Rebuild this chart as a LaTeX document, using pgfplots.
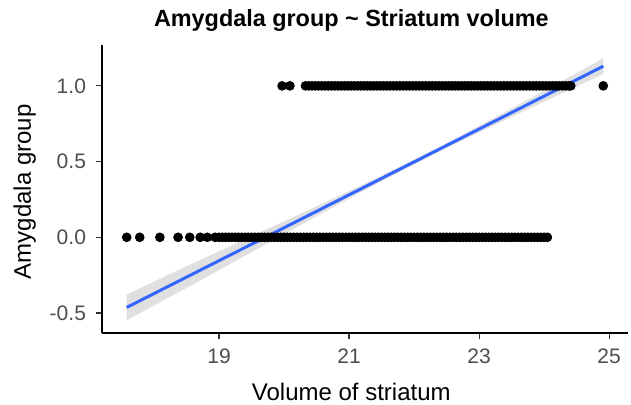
\documentclass[border=0pt]{standalone}
\usepackage{pgfplots}
\pgfplotsset{compat=1.18}
\usepackage{fontspec}
\setmainfont{Liberation Sans}
\definecolor{smoothblue}{HTML}{3366FF}
\definecolor{ticktext}{HTML}{4D4D4D}
\definecolor{tickline}{HTML}{333333}
\begin{document}
\begin{tikzpicture}
\useasboundingbox (0,0) rectangle (315.5pt,202.5pt);
\begin{axis}[
  at={(51pt,36pt)}, anchor=south west,
  width=263pt, height=144pt, scale only axis,
  xmin=17.2, xmax=25.29, ymin=-0.632, ymax=1.27,
  axis x line*=bottom, axis y line*=left,
  axis line style={black, line width=0.6pt},
  xtick={19,21,23,25}, ytick={-0.5,0,0.5,1},
  yticklabels={-0.5,0.0,0.5,1.0},
  tick align=outside, major tick length=3pt,
  tick style={tickline, line width=0.6pt},
  ticklabel style={font=\fontsize{10.5}{12}\selectfont, text=ticktext},
  /pgf/number format/assume math mode=true,
  xticklabel style={yshift=-1.5pt},
  yticklabel style={xshift=-1.5pt},
  xlabel={Volume of striatum},
  ylabel={Amygdala group},
  label style={font=\fontsize{12}{14}\selectfont},
  xlabel style={at={(axis description cs:0.474,-0.233)}, anchor=base},
  ylabel style={at={(axis description cs:-0.135,0.49)}, anchor=base},
  title={Amygdala group \textasciitilde{} Striatum volume},
  title style={font=\fontsize{11.7}{14}\selectfont\bfseries, at={(axis description cs:0.474,1.0625)}, anchor=base, yshift=-6pt},
  clip=false,
]
% y = 0 group
\addplot[only marks, mark=*, mark size=2.2pt, black] coordinates {
(17.58,0)(17.78,0)(18.09,0)(18.37,0)(18.55,0)(18.71,0)(18.82,0)(18.94,0)
(19.00,0)(19.05,0)(19.10,0)(19.15,0)(19.20,0)(19.25,0)(19.30,0)(19.35,0)(19.40,0)(19.45,0)
(19.50,0)(19.55,0)(19.60,0)(19.65,0)(19.70,0)(19.75,0)(19.80,0)(19.85,0)(19.90,0)(19.95,0)
(20.00,0)(20.05,0)(20.10,0)(20.15,0)(20.20,0)(20.25,0)(20.30,0)(20.35,0)(20.40,0)(20.45,0)
(20.50,0)(20.55,0)(20.60,0)(20.65,0)(20.70,0)(20.75,0)(20.80,0)(20.85,0)(20.90,0)(20.95,0)
(21.00,0)(21.05,0)(21.10,0)(21.15,0)(21.20,0)(21.25,0)(21.30,0)(21.35,0)(21.40,0)(21.45,0)
(21.50,0)(21.55,0)(21.60,0)(21.65,0)(21.70,0)(21.75,0)(21.80,0)(21.85,0)(21.90,0)(21.95,0)
(22.00,0)(22.05,0)(22.10,0)(22.15,0)(22.20,0)(22.25,0)(22.30,0)(22.35,0)(22.40,0)(22.45,0)
(22.50,0)(22.55,0)(22.60,0)(22.65,0)(22.70,0)(22.75,0)(22.80,0)(22.85,0)(22.90,0)(22.95,0)
(23.00,0)(23.05,0)(23.10,0)(23.15,0)(23.20,0)(23.25,0)(23.30,0)(23.35,0)(23.40,0)(23.45,0)
(23.50,0)(23.55,0)(23.60,0)(23.65,0)(23.70,0)(23.75,0)(23.80,0)(23.85,0)(23.90,0)(23.95,0)
(24.00,0)(24.05,0)
};
% y = 1 group
\addplot[only marks, mark=*, mark size=2.2pt, black] coordinates {
(19.97,1)(20.09,1)
(20.33,1)(20.38,1)(20.43,1)(20.48,1)(20.53,1)(20.58,1)(20.63,1)(20.68,1)(20.73,1)(20.78,1)
(20.83,1)(20.88,1)(20.93,1)(20.98,1)(21.03,1)(21.08,1)(21.13,1)(21.18,1)(21.23,1)(21.28,1)
(21.33,1)(21.38,1)(21.43,1)(21.48,1)(21.53,1)(21.58,1)(21.63,1)(21.68,1)(21.73,1)(21.78,1)
(21.83,1)(21.88,1)(21.93,1)(21.98,1)(22.03,1)(22.08,1)(22.13,1)(22.18,1)(22.23,1)(22.28,1)
(22.33,1)(22.38,1)(22.43,1)(22.48,1)(22.53,1)(22.58,1)(22.63,1)(22.68,1)(22.73,1)(22.78,1)
(22.83,1)(22.88,1)(22.93,1)(22.98,1)(23.03,1)(23.08,1)(23.13,1)(23.18,1)(23.23,1)(23.28,1)
(23.33,1)(23.38,1)(23.43,1)(23.48,1)(23.53,1)(23.58,1)(23.63,1)(23.68,1)(23.73,1)(23.78,1)
(23.83,1)(23.88,1)(23.93,1)(23.98,1)(24.03,1)(24.08,1)(24.13,1)(24.18,1)(24.23,1)(24.28,1)
(24.33,1)(24.38,1)(24.41,1)
(24.91,1)
};
% confidence band
\addplot[draw=none, fill=gray!60, fill opacity=0.4] coordinates {
(17.58,-0.378)(18.5,-0.191)(19.5,0.006)(20.5,0.205)(21.5,0.407)(22.5,0.622)(23.5,0.851)(24.2,1.014)(24.91,1.182)
(24.91,1.078)(24.2,0.936)(23.5,0.795)(22.5,0.590)(21.5,0.371)(20.5,0.139)(19.5,-0.098)(18.5,-0.335)(17.58,-0.548)
} -- cycle;
% regression line
\addplot[smoothblue, line width=1.5pt, no marks] coordinates {(17.58,-0.463)(24.91,1.130)};
\end{axis}
\end{tikzpicture}
\end{document}
